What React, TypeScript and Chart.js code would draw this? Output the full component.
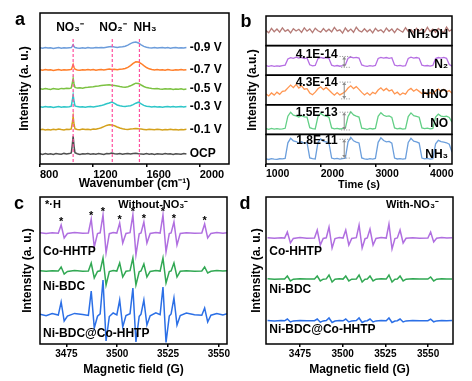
import React, { useEffect, useRef } from 'react';
import { Chart, registerables } from 'chart.js';

Chart.register(...registerables);

const FONT = '"Liberation Sans", Arial, Helvetica, sans-serif';
const W = 472;
const H = 381;

// ---------------- Panel a : in-situ Raman ----------------
const wavenumbers = [800, 820, 840, 860, 880, 900, 920, 940, 960, 980, 1000, 1020, 1035, 1042, 1049, 1056, 1063, 1080, 1100, 1120, 1140, 1160, 1180, 1200, 1220, 1240, 1260, 1280, 1300, 1320, 1340, 1360, 1380, 1400, 1420, 1440, 1460, 1480, 1500, 1520, 1540, 1560, 1580, 1600, 1620, 1640, 1660, 1680, 1700, 1720, 1740, 1760, 1780, 1800, 1820, 1840, 1860, 1880, 1900];
const ramanM09 = [116.2, 115.7, 116.4, 115.9, 116.3, 115.6, 116.1, 116.5, 115.8, 116.2, 115.9, 116.3, 116.4, 117.6, 119.2, 117.4, 116.5, 116.0, 115.7, 116.3, 115.8, 116.4, 116.1, 115.9, 116.5, 116.2, 116.6, 116.3, 116.8, 117.2, 117.6, 117.0, 116.6, 116.9, 117.2, 117.8, 118.9, 120.4, 121.6, 122.0, 121.0, 119.2, 117.6, 116.8, 116.3, 116.0, 116.5, 115.9, 116.3, 116.6, 116.0, 116.4, 115.8, 116.2, 116.5, 115.9, 116.3, 116.0, 116.4];
const ramanM07 = [94.2, 93.7, 94.4, 93.9, 94.3, 93.6, 94.1, 94.5, 93.8, 94.2, 93.9, 94.3, 94.6, 96.8, 99.5, 96.5, 94.8, 94.1, 93.8, 94.3, 93.9, 94.5, 94.0, 94.4, 93.8, 94.2, 94.6, 94.1, 94.5, 94.9, 94.4, 94.8, 94.3, 94.7, 95.0, 95.5, 96.6, 98.4, 100.6, 102.2, 102.0, 100.5, 98.3, 96.5, 95.2, 94.5, 94.1, 94.6, 93.9, 94.3, 93.8, 94.4, 94.0, 93.7, 94.3, 93.9, 94.5, 94.0, 94.3];
const ramanM05 = [75.3, 74.8, 75.5, 75.0, 74.6, 75.4, 75.1, 74.7, 75.6, 75.2, 75.8, 75.4, 76.0, 80.5, 85.5, 80.0, 76.5, 75.9, 76.2, 75.8, 76.4, 76.7, 77.1, 77.3, 77.8, 78.0, 78.4, 78.8, 79.0, 79.2, 78.8, 78.4, 77.9, 77.4, 77.0, 76.8, 77.3, 78.2, 79.5, 80.8, 80.6, 79.0, 77.5, 76.4, 75.9, 75.5, 75.2, 75.6, 75.0, 74.7, 75.3, 74.9, 75.2, 74.6, 75.1, 74.8, 75.3, 74.6, 75.0];
const ramanM03 = [57.2, 56.7, 57.4, 56.9, 57.3, 56.6, 57.1, 57.5, 56.8, 57.2, 56.9, 57.3, 57.8, 63.0, 69.0, 62.5, 58.0, 57.4, 56.9, 57.3, 56.8, 57.2, 57.5, 57.0, 57.6, 57.9, 58.4, 59.2, 60.2, 61.0, 62.0, 60.6, 59.0, 58.2, 57.8, 57.6, 57.9, 58.3, 59.4, 60.8, 61.8, 60.2, 58.6, 57.8, 57.4, 57.0, 57.5, 56.9, 57.3, 56.8, 57.2, 57.6, 57.0, 57.4, 56.9, 57.3, 57.6, 57.1, 57.4];
const ramanM01 = [34.3, 34.8, 34.1, 34.6, 34.0, 34.7, 34.2, 34.9, 34.4, 34.1, 34.8, 34.5, 35.0, 40.5, 47.5, 39.5, 35.2, 34.6, 34.2, 34.9, 34.4, 34.8, 34.3, 35.0, 34.7, 35.4, 36.2, 37.4, 38.6, 39.3, 39.0, 38.2, 37.0, 36.0, 35.2, 34.8, 34.5, 35.1, 35.3, 35.6, 35.2, 34.9, 34.6, 34.3, 34.8, 34.5, 34.2, 34.7, 34.4, 34.1, 34.6, 34.3, 34.8, 34.2, 34.5, 34.0, 34.6, 34.3, 34.7];
const ramanOCP = [10.3, 9.6, 10.5, 9.8, 10.2, 9.5, 10.4, 10.1, 9.7, 10.6, 10.0, 10.4, 11.0, 18.5, 28.0, 17.5, 11.2, 10.2, 9.6, 10.3, 9.9, 10.5, 9.7, 10.2, 9.8, 10.4, 10.1, 9.6, 10.5, 10.2, 10.9, 10.3, 9.9, 10.4, 9.7, 10.2, 10.6, 9.9, 10.5, 10.8, 10.3, 10.0, 9.7, 10.4, 9.8, 10.2, 9.6, 10.3, 10.0, 9.7, 10.4, 9.9, 10.2, 9.6, 10.3, 10.1, 9.8, 10.4, 9.9];
const ramanSeries = [ramanM09, ramanM07, ramanM05, ramanM03, ramanM01, ramanOCP];
const ramanLabels = ['-0.9 V', '-0.7 V', '-0.5 V', '-0.3 V', '-0.1 V', 'OCP'];
const ramanColors = ['#6d9ddb', '#ff7f2a', '#7cc242', '#2ec6c8', '#d4a11c', '#4f4f4f'];
const ramanLabelX = 1925;
const ramanPeakPositions = [1049, 1343, 1547];
const ramanPeakLineRange = [2, 125];
const ramanPeakLabels = ['NO₃⁻', 'NO₂⁻', 'NH₃'];
const ramanPeakLabelX = [1025, 1348, 1589];
const ramanPeakLabelY = 136;
const ramanTicks = [800, 1200, 1600, 2000];

// ---------------- Panel b : online DEMS ----------------
const timeB = [1000, 1050, 1100, 1150, 1200, 1250, 1300, 1350, 1400, 1450, 1500, 1550, 1600, 1650, 1700, 1750, 1800, 1850, 1900, 1950, 2000, 2050, 2100, 2150, 2200, 2250, 2300, 2350, 2400, 2450, 2500, 2550, 2600, 2650, 2700, 2750, 2800, 2850, 2900, 2950, 3000, 3050, 3100, 3150, 3200, 3250, 3300, 3350, 3400, 3450, 3500, 3550, 3600, 3650, 3700, 3750, 3800, 3850, 3900, 3950, 4000, 4050, 4100, 4150, 4200, 4250, 4300, 4350, 4400];
const demsNH3 = [5.2, 4.6, 5.4, 5.0, 4.7, 5.3, 5.1, 5.6, 21.5, 26.0, 23.5, 22.8, 21.2, 22.5, 21.0, 21.8, 6.2, 5.4, 5.1, 22.0, 25.5, 23.0, 22.4, 21.3, 6.0, 5.2, 5.6, 5.0, 5.4, 5.8, 22.5, 27.0, 23.5, 22.2, 21.3, 6.2, 5.3, 4.8, 5.4, 5.0, 5.6, 22.0, 26.5, 23.8, 22.5, 22.9, 21.2, 6.0, 5.1, 5.5, 4.9, 5.4, 21.8, 26.0, 23.2, 22.4, 21.2, 6.0, 5.2, 5.6, 5.0, 5.5, 20.5, 24.0, 22.6, 22.2, 21.5, 20.0, 12.0];
const demsNO = [5.8, 5.2, 6.0, 5.4, 5.9, 5.3, 5.7, 6.2, 18.5, 22.5, 19.5, 18.8, 17.6, 18.9, 17.8, 17.6, 6.8, 5.9, 5.5, 18.0, 21.5, 19.2, 18.4, 17.5, 6.5, 5.6, 6.1, 5.5, 5.9, 6.3, 18.2, 22.8, 19.8, 18.6, 17.6, 6.4, 5.8, 5.2, 6.0, 5.5, 6.1, 18.4, 22.0, 19.4, 18.2, 18.7, 17.3, 6.6, 5.7, 6.2, 5.4, 5.9, 18.0, 21.8, 19.0, 18.3, 17.4, 6.5, 5.9, 6.3, 5.6, 6.0, 17.5, 20.5, 18.6, 18.0, 18.4, 17.2, 12.5];
const demsHNO = [11.0, 9.0, 12.0, 9.8, 12.8, 10.6, 13.6, 14.2, 17.2, 20.0, 17.4, 20.6, 17.0, 19.2, 15.8, 16.4, 12.0, 10.2, 12.8, 16.2, 18.2, 15.4, 17.6, 15.0, 12.2, 9.8, 12.4, 10.0, 11.6, 13.4, 17.0, 19.2, 16.4, 18.4, 15.6, 12.6, 10.0, 12.2, 9.8, 12.6, 11.2, 15.0, 17.2, 14.4, 16.6, 14.0, 15.2, 11.0, 12.8, 10.0, 12.0, 10.8, 14.8, 16.6, 13.8, 15.8, 13.6, 11.4, 12.8, 10.2, 12.4, 11.0, 14.2, 16.0, 13.6, 15.6, 13.2, 14.4, 11.6];
const demsN2 = [9.8, 9.0, 9.6, 8.9, 9.5, 9.1, 9.7, 10.2, 16.5, 17.8, 17.0, 18.2, 17.4, 18.0, 16.9, 17.5, 10.5, 9.4, 9.9, 16.8, 18.0, 17.2, 17.9, 17.0, 10.2, 9.3, 9.8, 9.1, 9.6, 10.4, 17.2, 18.4, 17.6, 18.1, 17.3, 10.4, 9.5, 9.0, 9.7, 9.3, 9.9, 16.9, 18.1, 17.3, 17.9, 17.1, 17.7, 10.3, 9.4, 9.9, 9.2, 9.6, 17.0, 18.2, 17.4, 17.9, 17.2, 10.1, 9.5, 9.8, 9.2, 9.9, 16.8, 17.9, 17.3, 18.0, 17.1, 10.8, 9.2];
const demsNH2OH = [15.2, 13.0, 17.4, 14.1, 16.8, 13.6, 17.9, 14.4, 16.2, 12.8, 17.1, 14.8, 16.5, 13.4, 18.0, 14.6, 16.9, 13.2, 17.6, 15.0, 13.7, 17.3, 14.2, 16.6, 13.9, 18.4, 14.9, 16.0, 12.6, 17.8, 14.3, 16.7, 13.5, 18.6, 15.1, 13.8, 17.0, 14.0, 16.4, 12.9, 17.5, 14.7, 16.1, 13.3, 17.7, 14.5, 16.8, 13.1, 17.2, 15.3, 13.6, 18.1, 14.4, 16.3, 13.0, 17.6, 14.8, 16.9, 13.7, 18.5, 14.2, 16.6, 13.4, 17.3, 15.0, 13.2, 18.8, 14.6, 16.4];
// bottom -> top
const demsSeries = [demsNH3, demsNO, demsHNO, demsN2, demsNH2OH];
const demsNames = ['NH₃', 'NO', 'HNO', 'N₂', 'NH₂OH'];
const demsColors = ['#6c9fdc', '#63cf86', '#ff9651', '#b66fe3', '#b57b77'];
const demsNameLevel = [9, 10.5, 10, 11, 11.5];
const demsNameTime = 4330;
const demsAnnotText = ['1.8E-11', '1.5E-13', '4.3E-14', '4.1E-14'];
const demsAnnotTextY = [24, 22.5, 22, 21];
const demsAnnotLow = [6, 4.5, 6, 8];
const demsAnnotHigh = [25, 22.5, 23, 19];
const demsAnnotTextTime = 2310;
const demsArrowTime = 2430;
const demsTicks = [1000, 2000, 3000, 4000];

// ---------------- Panel c : EPR without NO3- ----------------
const fieldC = [3462, 3465, 3468, 3471.0, 3472.4, 3473.9, 3475.5, 3479, 3483, 3485.8, 3487.2, 3488.7, 3490.3, 3491.6, 3493.0, 3494.5, 3496.1, 3498, 3499.8, 3501.2, 3502.7, 3504.3, 3506.3, 3507.7, 3509.2, 3510.8, 3511.7, 3513.1, 3514.6, 3516.2, 3519, 3521.1, 3522.5, 3524.0, 3525.6, 3526.5, 3527.9, 3529.4, 3531.0, 3534, 3538, 3541.6, 3543.0, 3544.5, 3546.1, 3549, 3552, 3554];
const eprCoHHTP_C = [111.3, 110.6, 111.2, 110.8, 119, 106, 110.5, 111.4, 110.7, 111.0, 125, 97, 110.4, 111.2, 129, 91, 110.3, 111.5, 110.9, 121, 101, 110.6, 111.3, 129, 89, 110.2, 111.0, 122, 101, 110.5, 111.4, 110.9, 129, 92, 110.4, 111.1, 122, 99, 110.6, 111.3, 110.7, 111.0, 120, 106, 110.6, 111.4, 110.8, 111.2];
const eprNiBDC_C = [73.3, 72.7, 73.2, 72.9, 77, 70, 72.6, 73.4, 72.8, 73.0, 81, 66, 72.5, 73.2, 86, 59, 72.4, 73.5, 72.9, 81, 67, 72.7, 73.3, 86, 59, 72.3, 73.0, 80, 67, 72.6, 73.4, 72.9, 86, 61, 72.5, 73.1, 81, 67, 72.7, 73.3, 72.8, 73.0, 77, 71, 72.7, 73.4, 72.9, 73.2];
const eprHybrid_C = [29.8, 28.2, 30.4, 28.9, 42, 23, 28.0, 30.6, 29.5, 28.6, 53, 16, 27.8, 30.2, 64, 3, 27.5, 31.0, 29.2, 44, 17, 28.4, 30.3, 56, 2, 27.6, 29.8, 44, 19, 28.2, 31.2, 29.4, 57, 1.5, 27.9, 30.0, 46, 19, 28.5, 30.9, 29.2, 28.7, 36, 22, 28.8, 30.5, 29.0, 30.2];
const eprStarFields = [3472.4, 3487.2, 3493.0, 3501.2, 3507.7, 3513.1, 3522.5, 3527.9, 3543.0];
const eprTicks = [3475, 3500, 3525, 3550];

// ---------------- Panel d : EPR with NO3- ----------------
const fieldD = [3456, 3460, 3464, 3466.0, 3467.6, 3469.4, 3471.1, 3475, 3479, 3483.5, 3485.1, 3486.9, 3488.6, 3490.4, 3492.0, 3493.8, 3495.5, 3498, 3500.2, 3501.8, 3503.6, 3505.3, 3508.0, 3509.6, 3511.4, 3513.1, 3514.4, 3516.0, 3517.8, 3519.5, 3522.5, 3525.5, 3527.1, 3528.9, 3530.6, 3532.0, 3533.6, 3535.4, 3537.1, 3541, 3545, 3549.9, 3551.5, 3553.3, 3555.0, 3558, 3561, 3564];
const eprCoHHTP_D = [106.3, 105.7, 106.2, 105.9, 112, 101, 105.6, 106.4, 105.8, 106.0, 114, 99, 105.5, 106.2, 117, 96, 105.4, 106.5, 105.9, 114, 99, 105.6, 106.3, 119, 96, 105.3, 106.0, 115, 99, 105.6, 106.4, 105.9, 120, 95, 105.5, 106.1, 114, 101, 105.7, 106.3, 105.8, 106.0, 112, 102, 105.7, 106.4, 105.9, 106.2];
const eprNiBDC_D = [65.2, 64.8, 65.1, 64.9, 68, 63, 64.8, 65.2, 64.9, 65.0, 68, 63, 64.8, 65.1, 69, 62, 64.7, 65.2, 64.9, 68, 63, 64.8, 65.1, 69, 62, 64.7, 65.0, 68, 63, 64.8, 65.2, 64.9, 69, 62, 64.7, 65.0, 68, 63, 64.8, 65.2, 64.9, 65.0, 67, 63, 64.8, 65.2, 64.9, 65.1];
const eprHybrid_D = [23.5, 23.1, 23.4, 23.2, 25, 22, 23.1, 23.5, 23.2, 23.3, 25, 21.8, 23.1, 23.4, 26, 21.5, 23.0, 23.5, 23.2, 25, 22, 23.1, 23.4, 26, 21.5, 23.0, 23.3, 25, 22, 23.1, 23.5, 23.2, 26, 21.5, 23.0, 23.3, 25, 22, 23.1, 23.4, 23.2, 23.3, 24.8, 22.2, 23.1, 23.5, 23.2, 23.4];

const eprNames = ['Co-HHTP', 'Ni-BDC', 'Ni-BDC@Co-HHTP'];
const eprColors = ['#b06fe0', '#31a853', '#2b6fe6'];
const eprNameY_C = [92, 57, 10];
const eprNameY_D = [92, 54, 14];
const eprNameField_C = 3463.5;
const eprNameField_D = 3457;

// ---------------- helpers ----------------
const xy = (xs: number[], ys: number[]) => xs.map((x, i) => ({ x, y: ys[i] }));
const bold = (size: number) => ({ family: FONT, size, weight: 'bold' as const });

function text(ctx: CanvasRenderingContext2D, s: string, x: number, y: number, size: number, align: CanvasTextAlign = 'left', baseline: CanvasTextBaseline = 'middle', color = '#000') {
  ctx.save();
  ctx.font = `bold ${size}px ${FONT}`;
  ctx.fillStyle = color;
  ctx.textAlign = align;
  ctx.textBaseline = baseline;
  ctx.fillText(s, x, y);
  ctx.restore();
}

function box(ctx: CanvasRenderingContext2D, l: number, t: number, r: number, b: number) {
  ctx.save();
  ctx.strokeStyle = '#000';
  ctx.lineWidth = 1.5;
  ctx.strokeRect(l, t, r - l, b - t);
  ctx.restore();
}

function xScale(min: number, max: number, ticks: number[], title: string, tickSize: number, align: 'start' | 'center', titleSize: number, titlePadBottom: number, height: number) {
  return {
    type: 'linear',
    min,
    max,
    afterBuildTicks: (s: any) => {
      s.ticks = ticks.map((v) => ({ value: v }));
    },
    afterFit: (s: any) => {
      s.height = height;
    },
    grid: { display: true, drawOnChartArea: false, drawTicks: true, tickLength: 3, color: '#000', lineWidth: 1.5 },
    border: { display: false },
    ticks: {
      font: bold(tickSize),
      color: '#000',
      padding: 1,
      align,
      maxRotation: 0,
      autoSkip: false,
      callback: (v: any) => String(v),
    },
    title: { display: true, text: title, font: bold(titleSize), color: '#000', padding: { top: 0, bottom: titlePadBottom } },
  };
}

function yScale(min: number, max: number, title: string | null, width: number, titlePadTop: number, extra: any = {}) {
  return {
    type: 'linear',
    min,
    max,
    afterFit: (s: any) => {
      s.width = width;
    },
    grid: { display: false },
    border: { display: false },
    ticks: { display: false },
    title: title
      ? { display: true, text: title, font: bold(12), color: '#000', padding: { top: titlePadTop, bottom: 0 } }
      : { display: false },
    ...extra,
  };
}

const baseOptions = (padding: any) => ({
  responsive: false,
  animation: false as const,
  devicePixelRatio: 1,
  events: [] as any[],
  layout: { padding },
  plugins: { legend: { display: false }, tooltip: { enabled: false } },
  elements: { point: { radius: 0 }, line: { tension: 0 } },
});

// ---------------- chart factories ----------------
function makeA(canvas: HTMLCanvasElement) {
  const peakLines = ramanPeakPositions.map((p) => ({
    data: [{ x: p, y: ramanPeakLineRange[0] }, { x: p, y: ramanPeakLineRange[1] }],
    borderColor: '#ff4f9e',
    borderWidth: 1.2,
    borderDash: [3, 2],
    pointRadius: 0,
  }));
  const curves = ramanSeries.map((s, i) => ({
    data: xy(wavenumbers, s),
    borderColor: ramanColors[i],
    borderWidth: 1.5,
    pointRadius: 0,
  }));
  return new Chart(canvas, {
    type: 'line',
    data: { datasets: [...peakLines, ...curves] as any },
    options: {
      ...baseOptions({ left: 0, top: 13, right: 243, bottom: 185 }),
      scales: {
        x: xScale(800, 2220, ramanTicks, 'Wavenumber (cm⁻¹)', 11, 'start', 12, 4.8, 32),
        y: yScale(0, 151, 'Intensity (a. u.)', 40, 17.8),
      },
    } as any,
    plugins: [
      {
        id: 'decorA',
        afterDraw(chart: any) {
          const { ctx, chartArea: ca, scales } = chart;
          const x = scales.x;
          const y = scales.y;
          box(ctx, ca.left, ca.top, ca.right, ca.bottom);
          ramanSeries.forEach((s, i) => {
            text(ctx, ramanLabels[i], x.getPixelForValue(ramanLabelX), y.getPixelForValue(s[s.length - 1]), 12, 'left');
          });
          ramanPeakLabels.forEach((l, i) => {
            text(ctx, l, x.getPixelForValue(ramanPeakLabelX[i]), y.getPixelForValue(ramanPeakLabelY), 12, 'center');
          });
          text(ctx, 'a', ca.left - 20, ca.top + 12, 18, 'center', 'alphabetic');
        },
      },
    ],
  });
}

function makeB(canvas: HTMLCanvasElement) {
  const ids = ['y0', 'y1', 'y2', 'y3', 'y4'];
  const datasets = demsSeries.map((s, i) => ({
    data: xy(timeB, s),
    borderColor: demsColors[i],
    borderWidth: 1.3,
    pointRadius: 0,
    yAxisID: ids[i],
  }));
  const scales: any = { x: xScale(1000, 4400, demsTicks, 'Time (s)', 10.5, 'start', 11, 2.4, 30) };
  ids.forEach((id, i) => {
    scales[id] = yScale(0, 30, i === 2 ? 'Intensity (a.u.)' : null, 30, 9.8, { stack: 'dems', stackWeight: 1, position: 'left' });
  });
  return new Chart(canvas, {
    type: 'line',
    data: { datasets: datasets as any },
    options: {
      ...baseOptions({ left: 236, top: 16, right: 20, bottom: 187 }),
      scales,
    } as any,
    plugins: [
      {
        id: 'decorB',
        afterDraw(chart: any) {
          const { ctx, chartArea: ca, scales: sc } = chart;
          const x = sc.x;
          ids.forEach((id) => {
            const s = sc[id];
            box(ctx, ca.left, s.top, ca.right, s.bottom);
          });
          ids.forEach((id, i) => {
            const s = sc[id];
            text(ctx, demsNames[i], x.getPixelForValue(demsNameTime), s.getPixelForValue(demsNameLevel[i]), 12, 'right');
          });
          ctx.save();
          for (let i = 0; i < demsAnnotText.length; i++) {
            const s = sc[ids[i]];
            const tx = x.getPixelForValue(demsAnnotTextTime);
            const ax = x.getPixelForValue(demsArrowTime);
            const yl = s.getPixelForValue(demsAnnotLow[i]);
            const yh = s.getPixelForValue(demsAnnotHigh[i]);
            text(ctx, demsAnnotText[i], tx, s.getPixelForValue(demsAnnotTextY[i]), 12, 'right');
            ctx.strokeStyle = '#8a8a8a';
            ctx.fillStyle = '#8a8a8a';
            ctx.lineWidth = 1;
            ctx.setLineDash([1, 1.5]);
            ctx.beginPath();
            ctx.moveTo(tx + 2, yh);
            ctx.lineTo(ax + 7, yh);
            ctx.moveTo(ax - 3, yl);
            ctx.lineTo(ax + 7, yl);
            ctx.stroke();
            ctx.setLineDash([]);
            ctx.beginPath();
            ctx.moveTo(ax, yl - 2);
            ctx.lineTo(ax, yh + 2);
            ctx.stroke();
            ctx.beginPath();
            ctx.moveTo(ax - 2, yh + 3);
            ctx.lineTo(ax, yh);
            ctx.lineTo(ax + 2, yh + 3);
            ctx.closePath();
            ctx.fill();
            ctx.beginPath();
            ctx.moveTo(ax - 2, yl - 3);
            ctx.lineTo(ax, yl);
            ctx.lineTo(ax + 2, yl - 3);
            ctx.closePath();
            ctx.fill();
          }
          ctx.restore();
          text(ctx, 'b', ca.left - 20, ca.top + 11, 18, 'center', 'alphabetic');
        },
      },
    ],
  });
}

function makeEPR(
  canvas: HTMLCanvasElement,
  fields: number[],
  series: number[][],
  min: number,
  max: number,
  padding: any,
  yWidth: number,
  yTitlePad: number,
  nameField: number,
  nameY: number[],
  letter: string,
  withStars: boolean,
) {
  const datasets = series.map((s, i) => ({
    data: xy(fields, s),
    borderColor: eprColors[i],
    borderWidth: 1.5,
    pointRadius: 0,
  }));
  return new Chart(canvas, {
    type: 'line',
    data: { datasets: datasets as any },
    options: {
      ...baseOptions(padding),
      scales: {
        x: xScale(min, max, eprTicks, 'Magnetic field (G)', 10, 'center', 12, 0.8, 34),
        y: yScale(0, 147, 'Intensity (a. u.)', yWidth, yTitlePad),
      },
    } as any,
    plugins: [
      {
        id: 'decorEPR' + letter,
        afterDraw(chart: any) {
          const { ctx, chartArea: ca, scales } = chart;
          const x = scales.x;
          const y = scales.y;
          box(ctx, ca.left, ca.top, ca.right, ca.bottom);
          eprNames.forEach((n, i) => {
            text(ctx, n, x.getPixelForValue(nameField), y.getPixelForValue(nameY[i]), 12, 'left');
          });
          if (withStars) {
            eprStarFields.forEach((f) => {
              const idx = fields.indexOf(f);
              const v = series[0][idx];
              text(ctx, '*', x.getPixelForValue(f), y.getPixelForValue(v + 3), 11, 'center');
            });
            text(ctx, '*·H', x.getPixelForValue(3464.5), y.getPixelForValue(139), 11, 'left');
            text(ctx, 'Without-NO₃⁻', x.getPixelForValue(3535), y.getPixelForValue(139), 11, 'right');
          } else {
            text(ctx, 'With-NO₃⁻', x.getPixelForValue(3556.4), y.getPixelForValue(139), 11, 'right');
          }
          text(ctx, letter, ca.left - 21, ca.top + 12, 18, 'center', 'alphabetic');
        },
      },
    ],
  });
}

function Panel({ make }: { make: (c: HTMLCanvasElement) => Chart }) {
  const ref = useRef<HTMLCanvasElement>(null);
  useEffect(() => {
    const chart = make(ref.current as HTMLCanvasElement);
    return () => chart.destroy();
  }, [make]);
  return (
    <canvas
      ref={ref}
      width={W}
      height={H}
      style={{ position: 'absolute', left: 0, top: 0, width: W, height: H }}
    />
  );
}

const makeC = (c: HTMLCanvasElement) =>
  makeEPR(c, fieldC, [eprCoHHTP_C, eprNiBDC_C, eprHybrid_C], 3462, 3554, { left: 0, top: 197, right: 245, bottom: 3 }, 40, 20.8, eprNameField_C, eprNameY_C, 'c', true);
const makeD = (c: HTMLCanvasElement) =>
  makeEPR(c, fieldD, [eprCoHHTP_D, eprNiBDC_D, eprHybrid_D], 3455.1, 3564.6, { left: 236, top: 197, right: 19, bottom: 3 }, 30, 13.8, eprNameField_D, eprNameY_D, 'd', false);

export default function App() {
  return (
    <div style={{ position: 'fixed', left: 0, top: 0, width: W, height: H, background: '#fff', overflow: 'hidden' }}>
      <Panel make={makeA} />
      <Panel make={makeB} />
      <Panel make={makeC} />
      <Panel make={makeD} />
    </div>
  );
}
